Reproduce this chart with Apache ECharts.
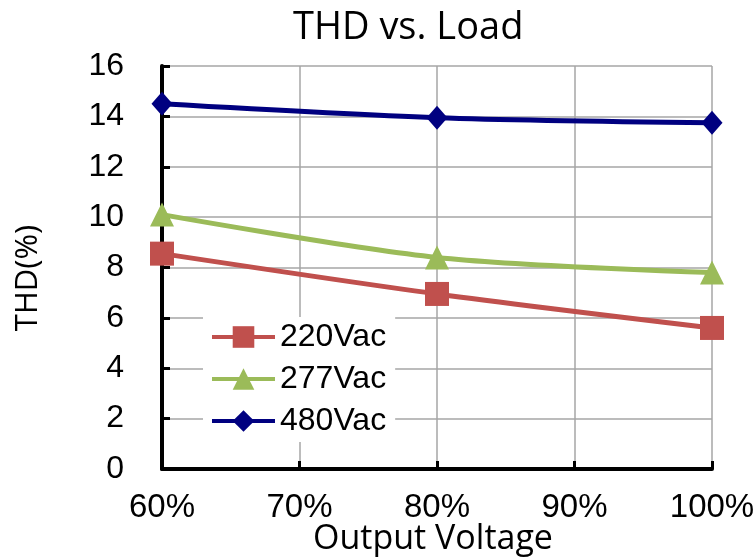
<!DOCTYPE html>
<html>
<head>
<meta charset="utf-8">
<script src="https://cdn.jsdelivr.net/npm/echarts@6/dist/echarts.min.js"></script>
<style>
html,body{margin:0;padding:0;background:#fff;}
#chart{width:756px;height:559px;}
</style>
</head>
<body>
<div id="chart"></div>
<script>
var loads = [60, 80, 100];
var v220 = [8.55, 6.95, 5.6];
var v277 = [10.1, 8.4, 7.8];
var v480 = [14.5, 13.95, 13.75];
var seriesNames = ['220Vac', '277Vac', '480Vac'];

function pairs(vals) {
  return loads.map(function (x, i) { return [x, vals[i]]; });
}

var chart = echarts.init(document.getElementById('chart'), null, {renderer: 'canvas'});
var serif = 'Liberation Sans, Arial, sans-serif';
var title = 'Open Sans, sans-serif';
chart.setOption({
  backgroundColor: '#ffffff',
  animation: false,
  title: {
    text: 'THD vs. Load',
    left: 293,
    top: 9,
    padding: 0,
    textStyle: {fontFamily: title, fontSize: 38, fontWeight: 'normal', color: '#000'}
  },
  grid: {left: 162, right: 44, top: 66, bottom: 90, containLabel: false, outerBoundsMode: 'none'},
  legend: {
    orient: 'vertical',
    left: 203,
    top: 317,
    padding: [4, 9, 5, 7],
    backgroundColor: '#ffffff',
    itemWidth: 63,
    itemHeight: 27,
    itemGap: 10,
    itemTextGap: 5,
    lineStyle: {width: 4},
    data: seriesNames,
    textStyle: {fontFamily: serif, fontSize: 32, lineHeight: 32, color: '#000'}
  },
  xAxis: {
    type: 'value',
    min: 60,
    max: 100,
    interval: 10,
    name: 'Output Voltage',
    nameLocation: 'middle',
    nameGap: 53,
    nameMoveOverlap: false,
    nameTextStyle: {fontFamily: title, fontSize: 34, color: '#000', padding: [0, 8, 0, 0]},
    axisLine: {show: true, lineStyle: {color: '#000', width: 4}},
    axisTick: {show: true, inside: true, length: 8, lineStyle: {color: '#000', width: 3}},
    axisLabel: {formatter: '{value}%', fontFamily: serif, fontSize: 33, color: '#000', margin: 22},
    splitLine: {show: true, lineStyle: {color: '#a6a6a6', width: 1.5}}
  },
  yAxis: {
    type: 'value',
    min: 0,
    max: 16,
    interval: 2,
    name: 'THD(%)',
    nameLocation: 'middle',
    nameGap: 118,
    nameMoveOverlap: false,
    nameTextStyle: {fontFamily: title, fontSize: 31, color: '#000', padding: [0, 21, 0, 0]},
    axisLine: {show: true, lineStyle: {color: '#000', width: 4}},
    axisTick: {show: true, inside: true, length: 8, lineStyle: {color: '#000', width: 3}},
    axisLabel: {fontFamily: serif, fontSize: 32, color: '#000', margin: 38},
    splitLine: {show: true, lineStyle: {color: '#a6a6a6', width: 1.5}}
  },
  series: [
    {
      name: seriesNames[0], type: 'line', data: pairs(v220), smooth: 0.3,
      symbol: 'rect', symbolSize: 24,
      lineStyle: {color: '#C0504D', width: 5},
      itemStyle: {color: '#C0504D'}
    },
    {
      name: seriesNames[1], type: 'line', data: pairs(v277), smooth: 0.3,
      symbol: 'triangle', symbolSize: 24,
      lineStyle: {color: '#9BBB59', width: 5},
      itemStyle: {color: '#9BBB59'}
    },
    {
      name: seriesNames[2], type: 'line', data: pairs(v480), smooth: 0.3,
      symbol: 'diamond', symbolSize: [21, 24],
      lineStyle: {color: '#000080', width: 5},
      itemStyle: {color: '#000080'}
    }
  ]
});
</script>
</body>
</html>
